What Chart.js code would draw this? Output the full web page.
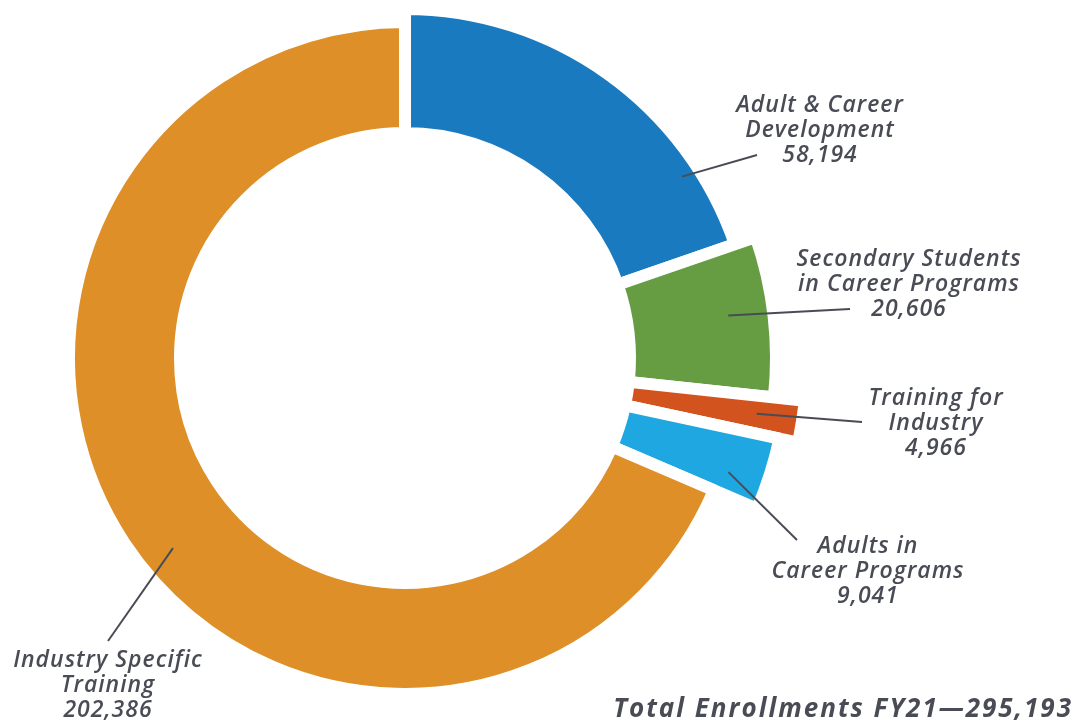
<!DOCTYPE html>
<html><head><meta charset="utf-8">
<script src="https://cdn.jsdelivr.net/npm/chart.js@4/dist/chart.umd.min.js"></script>
<style>html,body{margin:0;padding:0;background:#fff;overflow:hidden}</style>
</head><body><canvas id="c" width="1077" height="724"></canvas>
<script>
// ---- data ----
const categories = ['Adult & Career Development', 'Secondary Students in Career Programs', 'Training for Industry', 'Adults in Career Programs', 'Industry Specific Training'];
const labelLines = [['Adult & Career', 'Development'], ['Secondary Students', 'in Career Programs'], ['Training for', 'Industry'], ['Adults in', 'Career Programs'], ['Industry Specific', 'Training']];
const enrollments = [58194, 20606, 4966, 9041, 202386];
const totalLabel = 'Total Enrollments FY21\u2014295,193';

// ---- style ----
const sliceColors = ['#1A7ABF', '#669D42', '#D2531E', '#1EA7E0', '#DE8F27'];
const sliceOuter = [349, 371, 402, 383, 336];       // outer radius of each slice, px
const labelCenter = [[820, 112], [909, 266], [936, 405], [868, 553], [108, 667]]; // text centre x, first baseline
const leaderFrac = [0.80, 0.46, 0.48, 0.66, 0.476];  // position along slice angle
const leaderRad = [331, 326, 356, 343, 300];
const leaderEnd = [[757, 155], [850, 309], [862, 422], [797, 540], [108, 641]];
const textColor = '#4A4C55';
const fmt = v => v.toLocaleString('en-US');

const radiusPlugin = {
  id: 'sliceRadius',
  beforeDatasetsDraw(chart) {
    chart.getDatasetMeta(0).data.forEach((arc, i) => { arc.outerRadius = sliceOuter[i]; });
  }
};

const labelPlugin = {
  id: 'sliceLabels',
  afterDatasetsDraw(chart) {
    const ctx = chart.ctx;
    const arcs = chart.getDatasetMeta(0).data;
    ctx.save();
    ctx.strokeStyle = textColor;
    ctx.lineWidth = 2;
    arcs.forEach((arc, i) => {
      const a = arc.startAngle + leaderFrac[i] * (arc.endAngle - arc.startAngle);
      const x0 = arc.x + Math.cos(a) * leaderRad[i];
      const y0 = arc.y + Math.sin(a) * leaderRad[i];
      ctx.beginPath();
      ctx.moveTo(x0, y0);
      ctx.lineTo(leaderEnd[i][0], leaderEnd[i][1]);
      ctx.stroke();
    });
    ctx.fillStyle = textColor;
    ctx.textAlign = 'center';
    ctx.textBaseline = 'alphabetic';
    ctx.font = 'italic 600 23px "Open Sans"';
    ctx.letterSpacing = '1px';
    labelLines.forEach((lines, i) => {
      const [cx, by] = labelCenter[i];
      const all = lines.concat([fmt(enrollments[i])]);
      all.forEach((t, k) => ctx.fillText(t, cx, by + k * 25));
    });
    ctx.textAlign = 'right';
    ctx.font = 'italic 700 26px "Open Sans"';
    ctx.letterSpacing = '2px';
    ctx.fillText(totalLabel, 1073, 717);
    ctx.restore();
  }
};

new Chart(document.getElementById('c'), {
  type: 'doughnut',
  data: {
    labels: categories,
    datasets: [{
      data: enrollments,
      backgroundColor: sliceColors,
      borderColor: '#ffffff',
      borderWidth: 12,
      borderAlign: 'center',
      clip: false
    }]
  },
  options: {
    responsive: false,
    animation: false,
    cutout: 225,
    layout: { padding: { left: 47, right: 314, top: 0, bottom: 8 } },
    plugins: { legend: { display: false }, tooltip: { enabled: false } }
  },
  plugins: [radiusPlugin, labelPlugin]
});
</script></body></html>
